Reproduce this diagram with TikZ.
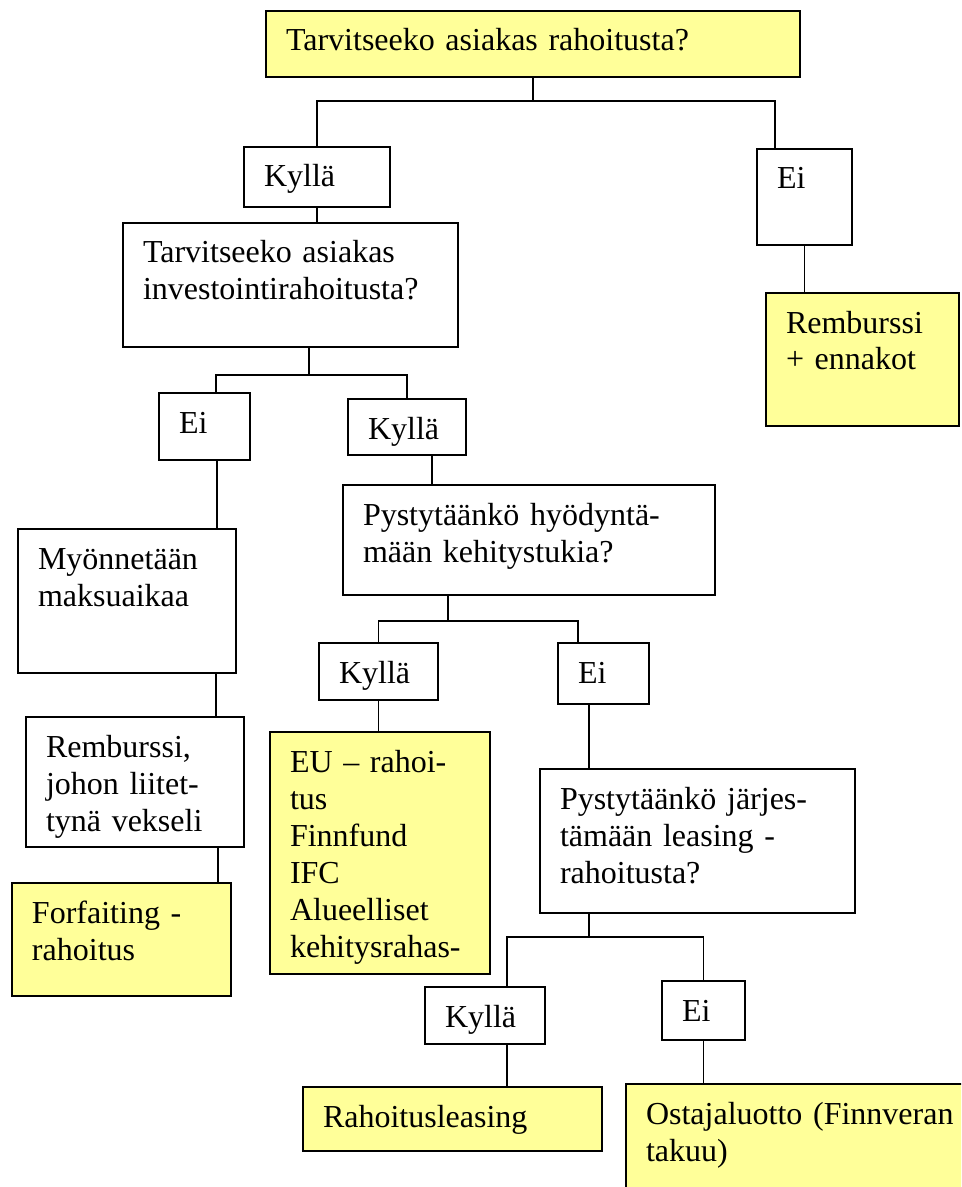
\documentclass[tikz,border=0pt]{standalone}
\usepackage{fontspec}
\setmainfont{Liberation Serif}
\usepackage{tikz}
\definecolor{boxyellow}{HTML}{FFFF99}
\newdimen\pxl
\pxl=0.375pt
\tikzset{
  box/.style={draw,line width=0.9pt,anchor=north west,outer sep=0pt,inner xsep=20\pxl,inner ysep=0pt,align=left,text height=40\pxl,font=\fontsize{12}{13.875}\selectfont},
  ybox/.style={box,fill=boxyellow},
  link/.style={line width=0.6pt}
}

\begin{document}
\begin{tikzpicture}[x=0.375pt,y=-0.375pt]
\useasboundingbox (0,0) rectangle (961,1187);
\clip (0,0) rectangle (961,1187);
\node (q1) at (266,11) [ybox,text width=494\pxl,text depth=26\pxl] {Tarvitseeko asiakas rahoitusta?};
\node (k1) at (244,147) [box,text width=106\pxl,text depth=20\pxl] {Kyllä};
\node (e1) at (757,149) [box,text width=55\pxl,text depth=56\pxl] {Ei};
\node (q2) at (123,223) [box,text width=295\pxl,text depth=84\pxl] {Tarvitseeko asiakas\\investointirahoitusta?};
\node (r1) at (766,293) [ybox,text width=153\pxl,text depth=93\pxl] {Remburssi\\+ ennakot};
\node (e2) at (159,393) [box,text width=51\pxl,text depth=27\pxl] {Ei};
\node (k2) at (348,399) [box,text width=78\pxl,text depth=16\pxl] {Kyllä};
\node (q3) at (343,485) [box,text width=332\pxl,text depth=70\pxl] {Pystytäänkö hyödyntä-\\mään kehitystukia?};
\node (m1) at (18,529) [box,text width=178\pxl,text depth=104\pxl] {Myönnetään\\maksuaikaa};
\node (k3) at (319,643) [box,text width=79\pxl,text depth=17\pxl] {Kyllä};
\node (e3) at (558,643) [box,text width=51\pxl,text depth=21\pxl] {Ei};
\node (m2) at (26,717) [box,text width=178\pxl,text depth=90\pxl] {Remburssi,\\johon liitet-\\tynä vekseli};
\node (f1) at (270,732) [ybox,text width=180\pxl,text depth=202\pxl] {EU – rahoi-\\tus\\Finnfund\\IFC\\Alueelliset\\kehitysrahas-};
\node (q4) at (540,769) [box,text width=275\pxl,text depth=104\pxl] {Pystytäänkö järjes-\\tämään leasing -\\rahoitusta?};
\node (f2) at (12,883) [ybox,text width=179\pxl,text depth=73\pxl] {Forfaiting -\\rahoitus};
\node (k4) at (425,987) [box,text width=80\pxl,text depth=17\pxl] {Kyllä};
\node (e4) at (662,981) [box,text width=43\pxl,text depth=19\pxl] {Ei};
\node (f3) at (303,1087) [ybox,text width=259\pxl,text depth=24\pxl] {Rahoitusleasing};
\node (f4) at (626,1084) [ybox,text width=340\pxl,text depth=90\pxl] {Ostajaluotto (Finnveran\\takuu)};
\draw [link] (q1.south) -- ++(0,24) -| (k1.north);
\draw [link] (q1.south) -- ++(0,24) -| ([xshift=18\pxl]e1.north west);
\draw [link] (k1.south) -- (k1.south |- q2.north);
\draw [link] (e1.south) -- (e1.south |- r1.north);
\draw [link] ([xshift=186\pxl]q2.south west) -- ++(0,28) -| ([xshift=57\pxl]e2.north west);
\draw [link] ([xshift=186\pxl]q2.south west) -- ++(0,28) -| (k2.north);
\draw [link] ([xshift=58\pxl]e2.south west) -- ([xshift=199\pxl]m1.north west);
\draw [link] ([xshift=84\pxl]k2.south west) -- ([xshift=89\pxl]q3.north west);
\draw [link] ([xshift=105\pxl]q3.south west) -- ++(0,26) -| (k3.north);
\draw [link] ([xshift=105\pxl]q3.south west) -- ++(0,26) -| ([xshift=20\pxl]e3.north west);
\draw [link] (k3.south) -- (k3.south |- f1.north);
\draw [link] ([xshift=31\pxl]e3.south west) -- ([xshift=49\pxl]q4.north west);
\draw [link] ([xshift=198\pxl]m1.south west) -- ([xshift=190\pxl]m2.north west);
\draw [link] ([xshift=192\pxl]m2.south west) -- ([xshift=206\pxl]f2.north west);
\draw [link] ([xshift=49\pxl]q4.south west) -- ++(0,24) -| ([xshift=82\pxl]k4.north west);
\draw [link] ([xshift=49\pxl]q4.south west) -- ++(0,24) -| (e4.north);
\draw [link] ([xshift=82\pxl]k4.south west) -- ([xshift=204\pxl]f3.north west);
\draw [link] (e4.south) -- (e4.south |- f4.north);
\end{tikzpicture}
\end{document}
